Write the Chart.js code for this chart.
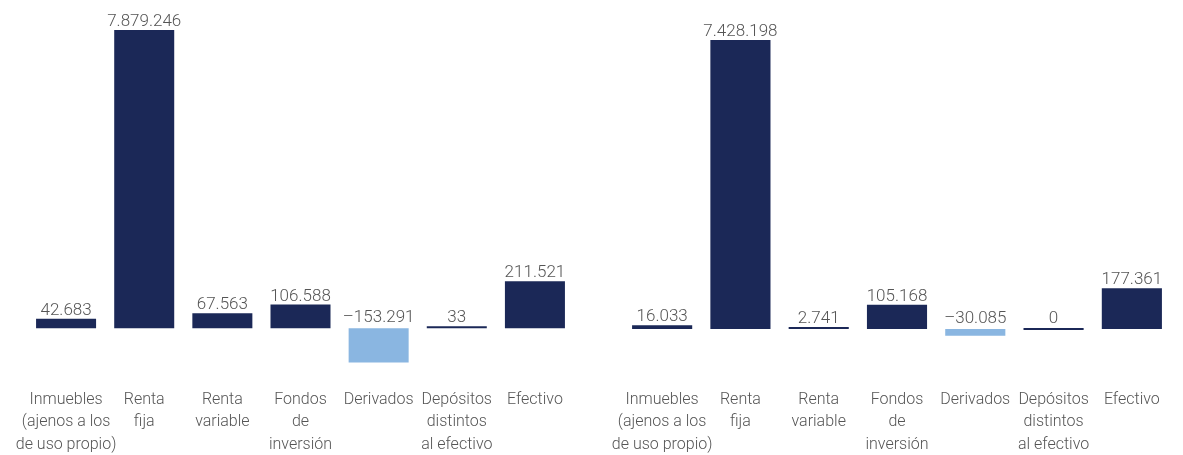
<!DOCTYPE html>
<html>
<head>
<meta charset="utf-8">
<script src="https://cdn.jsdelivr.net/npm/chart.js@4.4.1/dist/chart.umd.min.js"></script>
<style>
  html, body { margin: 0; padding: 0; background: #fff; overflow: hidden; }
  #wrap { position: relative; width: 1183px; height: 455px; overflow: hidden; }
  canvas { position: absolute; top: 0; }
  #links { left: 0; }
  #rechts { left: 592px; }
</style>
</head>
<body>
<div id="wrap">
  <canvas id="links" width="592" height="458"></canvas>
  <canvas id="rechts" width="591" height="458"></canvas>
</div>
<script>
"use strict";

// Categorieën (meerregelig, zoals in de bron)
const categorieen = [
    ["Inmuebles", "(ajenos a los", "de uso propio)"],
    ["Renta", "fija"],
    ["Renta", "variable"],
    ["Fondos", "de", "inversión"],
    ["Derivados"],
    ["Depósitos", "distintos", "al efectivo"],
    ["Efectivo"]
];

// Waarden linker grafiek
const waardenLinks = [42683, 7879246, 67563, 106588, -153291, 33, 211521];
// Waarden rechter grafiek
const waardenRechts = [16033, 7428198, 2741, 105168, -30085, 0, 177361];

// Schaalgrenzen (grote staaf loopt buiten het bereik en wordt afgekapt)
const schaalLinks = { min: -261000, max: 1338750 };
const schaalRechts = { min: -252000, max: 1264000 };

const donker = "#1b2857";
const licht = "#8ab6e1";
const tekstKleur = "#555555";

// Getal in Spaanse notatie met punt als duizendtal-scheiding
function formatteer(v) {
    const s = Math.abs(v).toString().replace(/\B(?=(\d{3})+(?!\d))/g, ".");
    return (v < 0 ? "\u2013" : "") + s;
}

// Plugin die de waarden boven de staven tekent
const waardeLabels = {
    id: "waardeLabels",
    afterDatasetsDraw(chart) {
        const ctx = chart.ctx;
        const meta = chart.getDatasetMeta(0);
        const data = chart.data.datasets[0].data;
        const nul = chart.scales.y.getPixelForValue(0);
        ctx.save();
        ctx.font = "300 17px Roboto";
        ctx.fillStyle = tekstKleur;
        ctx.textAlign = "center";
        ctx.textBaseline = "alphabetic";
        meta.data.forEach((staaf, i) => {
            const v = data[i];
            let y;
            if (v > 0) {
                y = Math.max(staaf.y, chart.chartArea.top) - 4;
                y = Math.min(y, nul - 6);
            } else {
                y = nul - 6;
            }
            ctx.fillText(formatteer(v), staaf.x, y);
        });
        ctx.restore();
    }
};

function maakGrafiek(id, waarden, schaal, padding) {
    return new Chart(document.getElementById(id), {
        type: "bar",
        data: {
            labels: categorieen,
            datasets: [{
                data: waarden,
                backgroundColor: waarden.map(v => v < 0 ? licht : donker),
                barPercentage: 0.768,
                categoryPercentage: 1,
                minBarLength: 2,
                clip: 0
            }]
        },
        options: {
            responsive: false,
            animation: false,
            layout: { padding: padding },
            plugins: {
                legend: { display: false },
                tooltip: { enabled: false }
            },
            scales: {
                x: {
                    grid: { display: false, drawTicks: false },
                    border: { display: false },
                    ticks: {
                        color: tekstKleur,
                        font: { family: "Roboto", size: 16, weight: "300", lineHeight: "22.5px" },
                        maxRotation: 0,
                        autoSkip: false,
                        padding: 2
                    }
                },
                y: {
                    min: schaal.min,
                    max: schaal.max,
                    ticks: { display: false, stepSize: 100000 },
                    border: { display: false },
                    grid: {
                        drawTicks: false,
                        lineWidth: 1.5,
                        color: c => (c.tick && c.tick.value === 0) ? "#a6a6a6" : "rgba(0,0,0,0)"
                    }
                }
            }
        },
        plugins: [waardeLabels]
    });
}

maakGrafiek("links", waardenLinks, schaalLinks, { left: 27, right: 18, top: 30, bottom: 0 });
maakGrafiek("rechts", waardenRechts, schaalRechts, { left: 31, right: 12, top: 40, bottom: 0 });
</script>
</body>
</html>
